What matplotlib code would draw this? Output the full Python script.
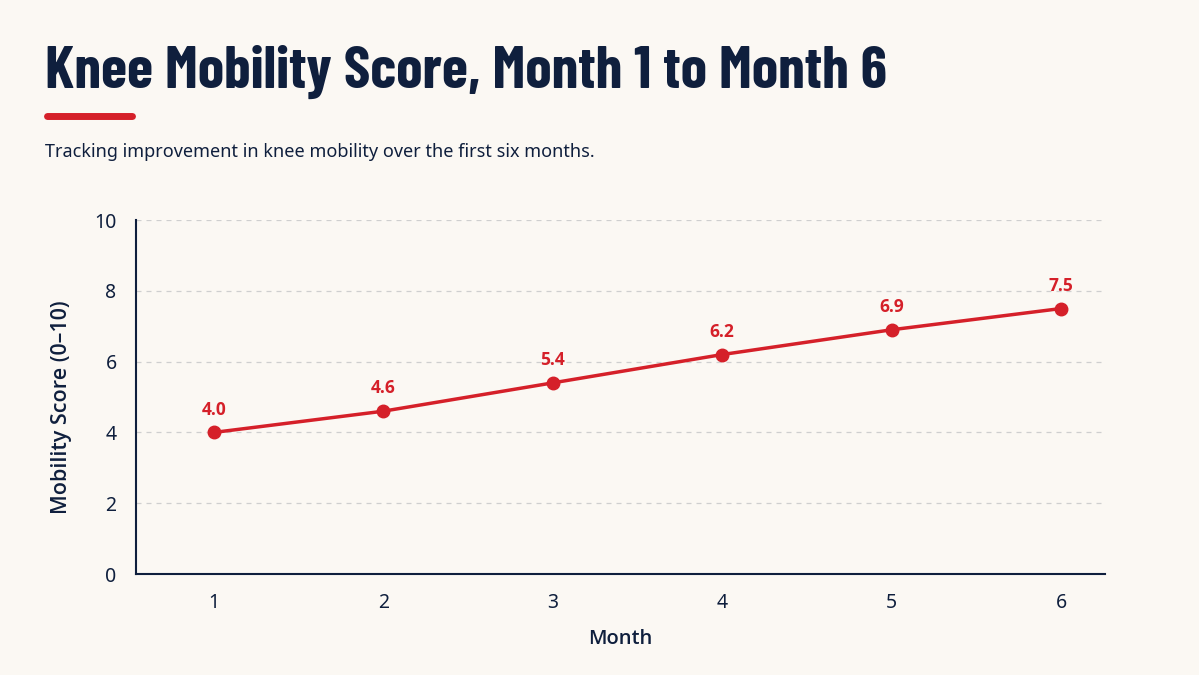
import matplotlib.pyplot as plt

months = [1, 2, 3, 4, 5, 6]
scores = [4.0, 4.6, 5.4, 6.2, 6.9, 7.5]
yticks = [0, 2, 4, 6, 8, 10]

bg = "#fbf8f3"
navy = "#0f1f3d"
red = "#d52029"

plt.rcParams["font.family"] = ["Noto Sans", "DejaVu Sans"]

fig = plt.figure(figsize=(11.99, 6.75), dpi=100, facecolor=bg)
ax = fig.add_axes([0.1134, 0.1496, 0.8082, 0.5244], facecolor=bg)

ax.plot(months, scores, color=red, lw=2.5, marker="o", ms=9, zorder=3)
for m, s in zip(months, scores):
    ax.annotate(f"{s:.1f}", (m, s), xytext=(0, 10), textcoords="offset points",
                ha="center", va="bottom", color=red, fontsize=12.5,
                family="Open Sans", fontweight="bold")

ax.set_xlim(0.54, 6.26)
ax.set_ylim(0, 10)
ax.set_xticks(months)
ax.set_yticks(yticks)
ax.tick_params(length=0, labelsize=14, colors=navy, pad=14)
ax.grid(axis="y", color="#cfcfcf", ls=(0, (4, 4)), lw=0.9)
ax.set_axisbelow(True)
for side in ["top", "right"]:
    ax.spines[side].set_visible(False)
for side in ["left", "bottom"]:
    ax.spines[side].set_color(navy)
    ax.spines[side].set_linewidth(1.5)

ax.set_xlabel("Month", fontsize=14.5, color=navy, labelpad=11,
              family="Open Sans", fontweight="semibold")
ax.set_ylabel("Mobility Score (0–10)", fontsize=15.5, color=navy,
              family="Open Sans", fontweight="semibold")
ax.yaxis.set_label_coords(-0.066, 0.47)

fig.text(45 / 1199, 1 - 88 / 675, "Knee Mobility Score, Month 1 to Month 6",
         family="Barlow Condensed", fontweight="bold",
         fontsize=43, color=navy, va="baseline")
fig.add_artist(plt.Line2D([47 / 1199, 132 / 1199], [1 - 116 / 675] * 2,
                          color=red, lw=5, solid_capstyle="round"))
fig.text(45 / 1199, 1 - 152 / 675, "Tracking improvement in knee mobility over the first six months.",
         fontsize=13, color=navy, va="center")

fig.savefig("out.png", dpi=100, facecolor=bg)
